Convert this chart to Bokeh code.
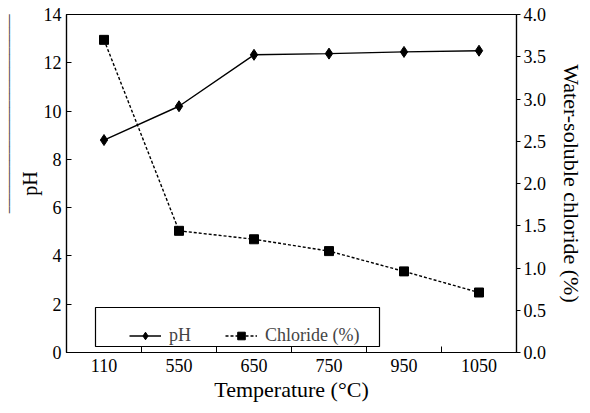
from bokeh.plotting import figure
from bokeh.models import (LinearAxis, Range1d, FixedTicker, Legend, LegendItem,
                          BoxAnnotation, ColumnDataSource, NumeralTickFormatter, Title)
from bokeh.embed import file_html
from bokeh.resources import INLINE

temps = ["110", "550", "650", "750", "950", "1050"]
ph = [8.8, 10.2, 12.33, 12.38, 12.45, 12.5]
chloride = [3.70, 1.44, 1.34, 1.20, 0.96, 0.71]
ph_ticks = [0, 2, 4, 6, 8, 10, 12, 14]
cl_ticks = [0.0, 0.5, 1.0, 1.5, 2.0, 2.5, 3.0, 3.5, 4.0]

xpos = [i + 0.5 for i in range(len(temps))]
bounds = [i for i in range(1, len(temps))]

FONT = "Liberation Serif"

p = figure(frame_width=450, frame_height=338, output_backend="svg",
           toolbar_location=None,
           x_range=Range1d(0, len(temps)), y_range=Range1d(0, 14),
           min_border_left=0, min_border_right=5, min_border_top=14,
           min_border_bottom=0, x_axis_location=None, y_axis_location=None)
p.grid.visible = False
p.outline_line_color = "black"
p.outline_line_width = 1.2
p.background_fill_color = "white"
p.border_fill_color = "white"

p.extra_y_ranges = {"cl": Range1d(0, 4)}

xa = LinearAxis(ticker=FixedTicker(ticks=xpos, minor_ticks=bounds),
                major_label_overrides={x: t for x, t in zip(xpos, temps)},
                axis_label="Temperature (°C)")
xa.major_tick_in = 0
xa.major_tick_out = 0
xa.minor_tick_in = 6
xa.minor_tick_out = 0
p.add_layout(xa, "below")

ya = LinearAxis(ticker=FixedTicker(ticks=ph_ticks), axis_label="pH")
ya.major_tick_in = 5
ya.major_tick_out = 0
p.add_layout(ya, "left")

yr = LinearAxis(y_range_name="cl", ticker=FixedTicker(ticks=cl_ticks),
                formatter=NumeralTickFormatter(format="0.0"),
                axis_label="Water-soluble chloride (%)")
yr.major_tick_in = 0
yr.major_tick_out = 4
p.add_layout(yr, "right")

for ax in (xa, ya, yr):
    ax.axis_line_color = "black"
    ax.axis_line_width = 1.2
    ax.major_tick_line_color = "black"
    ax.minor_tick_line_color = "black" if ax is xa else None
    ax.major_label_text_font = FONT
    ax.major_label_text_font_size = "18px"
    ax.major_label_text_color = "black"
    ax.axis_label_text_font = FONT
    ax.axis_label_text_font_style = "normal"
    ax.axis_label_text_color = "black"
xa.axis_label_text_font_size = "22px"
ya.axis_label_text_font_size = "20px"
yr.axis_label_text_font_size = "22px"
xa.major_label_standoff = 6
xa.axis_label_standoff = 2
ya.major_label_standoff = 5
ya.axis_label_standoff = 0
yr.major_label_standoff = 3
yr.axis_label_standoff = 10

src = ColumnDataSource(dict(x=xpos, ph=ph, cl=chloride))
l1 = p.line("x", "ph", source=src, line_color="black", line_width=1.4)
m1 = p.scatter("x", "ph", source=src, marker="diamond", size=11,
               fill_color="black", line_color="black")
l2 = p.line("x", "cl", source=src, y_range_name="cl", line_color="black",
            line_width=1.4, line_dash="3 2")
m2 = p.scatter("x", "cl", source=src, y_range_name="cl", marker="square",
               size=9, fill_color="black", line_color="black")

# legend frame (frame-relative screen units)
p.add_layout(BoxAnnotation(left=29, right=313, bottom=6, top=45,
                           left_units="screen", right_units="screen",
                           top_units="screen", bottom_units="screen",
                           fill_color="white", fill_alpha=1,
                           line_color="black", line_width=1.2, line_alpha=1))

leg = Legend(items=[LegendItem(label="pH", renderers=[l1, m1]),
                    LegendItem(label="Chloride (%)", renderers=[l2, m2])],
             orientation="horizontal", location=(63, 6),
             padding=10, spacing=34, glyph_width=32, glyph_height=19,
             label_standoff=8, label_text_font=FONT, label_text_font_size="18px",
             border_line_color=None, background_fill_alpha=0)
p.add_layout(leg, "center")

# overline beside rotated "pH" label (drawn as a line of box-drawing glyphs)
p.add_layout(Title(text="\u2500" * 30, align="right", standoff=0,
                   text_font="DejaVu Sans", text_font_size="11px",
                   text_font_style="normal", text_color="#444444"), "left")

open("out.html", "w").write(file_html(p, INLINE))
